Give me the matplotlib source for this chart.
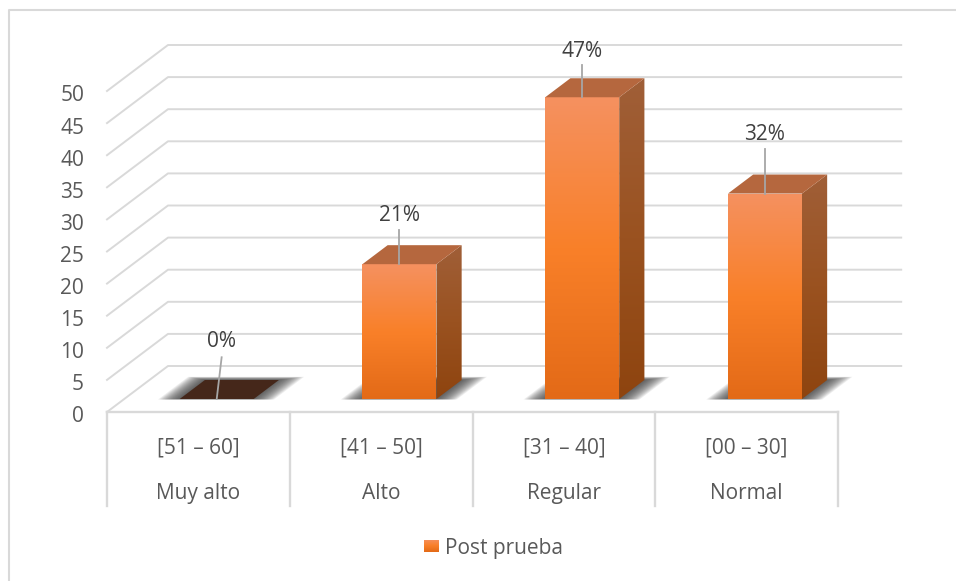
import numpy as np
import matplotlib
matplotlib.use("Agg")
import matplotlib.pyplot as plt
from matplotlib.colors import LinearSegmentedColormap
from matplotlib.lines import Line2D
from matplotlib.patches import Polygon
from matplotlib.transforms import ScaledTranslation

rangos = ["[51 – 60]", "[41 – 50]", "[31 – 40]", "[00 – 30]"]
niveles = ["Muy alto", "Alto", "Regular", "Normal"]
valores = [0, 21, 47, 32]
etiquetas = ["0%", "21%", "47%", "32%"]
serie = "Post prueba"
y_ticks = list(range(0, 55, 5))

W, H = 956, 581
FS = 15
plt.rcParams["font.family"] = ["Open Sans", "DejaVu Sans"]
fig = plt.figure(figsize=(W / 100, H / 100), dpi=100)
ax = fig.add_axes([107 / W, (H - 412) / H, 731 / W, 321 / H])
ax.set_xlim(0, 4)
ax.set_ylim(0, 50)
for s in ax.spines.values():
    s.set_visible(False)
ax.patch.set_visible(False)

DX = 61 / (731 / 4)
DY = 46 / 6.42
GRID = "#D9D9D9"
TXT = "#595959"

def pr(x, y, z):
    return (x + z * DX, y + z * DY)

# chart-area border: only the top and left edges are visible
fig.add_artist(Line2D([8.5 / W, 8.5 / W, 1], [0, (H - 9.5) / H, (H - 9.5) / H], color=GRID, lw=1.5))

# gridlines
for v in y_ticks:
    a, b, c = pr(0, v, 0), pr(0, v, 1), pr(4.012, v, 1)
    ax.plot([a[0], b[0], c[0]], [a[1], b[1], c[1]], color=GRID, lw=1.4, clip_on=False, zorder=1)
ax.plot([0, 4], [0, 0], color=GRID, lw=1.7, clip_on=False, zorder=1)
sep_t = ax.get_xaxis_transform()
for i in range(5):
    ax.plot([i, i], [0, -94 / 321], transform=sep_t, color=GRID, lw=1.7, clip_on=False, zorder=1)

# ticks
ax.set_yticks(y_ticks)
ax.tick_params(axis="y", length=0, pad=16.5, labelsize=FS, labelcolor=TXT)
shift = ScaledTranslation(0, -2.5 / 100, fig.dpi_scale_trans)
for tick in ax.yaxis.get_major_ticks():
    tick.label1.set_transform(tick.label1.get_transform() + shift)
ax.set_xticks([0.5, 1.5, 2.5, 3.5])
ax.set_xticklabels(rangos)
ax.tick_params(axis="x", length=0, pad=18.7, labelsize=FS, labelcolor=TXT)
for i, n in enumerate(niveles):
    ax.text(i + 0.5, -79 / 321, n, transform=sep_t, ha="center", va="center_baseline", fontsize=FS, color=TXT)

cm_front = LinearSegmentedColormap.from_list("f", ["#F59160", "#F98029", "#E36A17"])
cm_side = LinearSegmentedColormap.from_list("s", ["#A05F38", "#9A5220", "#8E440F"])
TOP = "#B5673E"
BW = 74 / (731 / 4)
Z0, Z1 = 13 / 46, 32 / 46
CX = [0.5 + 0.006, 1.5 + 0.006, 2.5 + 0.006, 3.5 + 0.006]

def grad(poly, cmap, z):
    xs = [p[0] for p in poly]
    ys = [p[1] for p in poly]
    ext = [min(xs), max(xs), min(ys), max(ys)]
    im = ax.imshow(np.linspace(0, 1, 256)[:, None], cmap=cmap, extent=ext, aspect="auto",
                   origin="upper", zorder=z)
    pg = Polygon(poly, closed=True, transform=ax.transData, fc="none", ec="none", clip_on=False)
    ax.add_patch(pg)
    im.set_clip_box(fig.bbox)
    im.set_clip_path(pg)

LABEL_GAP = {0: 9.3, 21: 8.0, 47: 7.5, 32: 9.6}
LINE_GAP = {0: 6.5, 21: 5.4, 47: 5.0, 32: 7.0}

for cx, v, lab in zip(CX, valores, etiquetas):
    x0, x1 = cx - BW / 2, cx + BW / 2
    # soft shadow on the floor
    for m in np.linspace(0.115, 0.0, 18):
        mz = m * 0.6
        low = Z0 - m * 0.1
        sq = [pr(x0 - m, 0, low), pr(x1 + m, 0, low),
              pr(x1 + m, 0, Z1 + mz), pr(x0 - m, 0, Z1 + mz)]
        ax.add_patch(Polygon(sq, closed=True, fc="#3A3A3A", ec="none", alpha=0.08, zorder=2, clip_on=False))
    px, py = pr(cx, v, Z0)
    if v == 0:
        sq = [pr(x0, 0, Z0), pr(x1, 0, Z0), pr(x1, 0, Z1), pr(x0, 0, Z1)]
        ax.add_patch(Polygon(sq, closed=True, fc="#45271A", ec="none", zorder=3, clip_on=False))
        lean = 0.027
    else:
        front = [pr(x0, 0, Z0), pr(x1, 0, Z0), pr(x1, v, Z0), pr(x0, v, Z0)]
        side = [pr(x1, 0, Z0), pr(x1, 0, Z1), pr(x1, v, Z1), pr(x1, v, Z0)]
        top = [pr(x0, v, Z0), pr(x1, v, Z0), pr(x1, v, Z1), pr(x0, v, Z1)]
        grad(side, cm_side, 3)
        grad(front, cm_front, 4)
        ax.add_patch(Polygon(top, closed=True, fc=TOP, ec="none", zorder=4, clip_on=False))
        lean = 0
    ax.plot([px, px + lean], [py, py + LINE_GAP[v]], color="#A6A6A6", lw=1.3, zorder=6, clip_on=False)
    ax.text(px + lean, py + LABEL_GAP[v], lab, ha="center", va="center_baseline",
            fontsize=FS, color="#404040", zorder=7)

ax.set_xlim(0, 4)
ax.set_ylim(0, 50)

# legend
lax = fig.add_axes([424 / W, (H - 552.5) / H, 15 / W, 13 / H])
lax.imshow(np.linspace(0, 1, 64)[:, None], cmap=cm_front, aspect="auto", origin="upper")
lax.axis("off")
fig.text(445 / W, (H - 546) / H, serie, ha="left", va="center_baseline", fontsize=FS, color=TXT)

fig.savefig("out.png", dpi=100, facecolor="white")
